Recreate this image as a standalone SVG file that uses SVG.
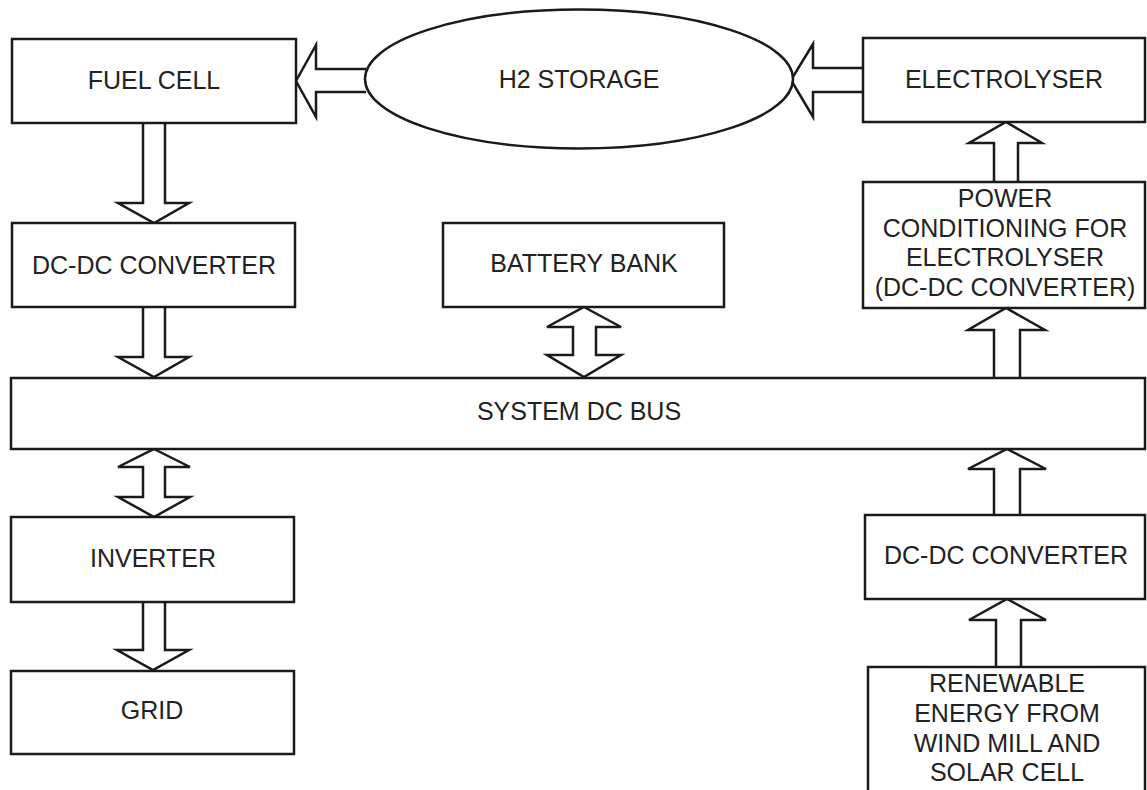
<svg xmlns="http://www.w3.org/2000/svg" width="1147" height="790" viewBox="0 0 1147 790">
<style>
.box{fill:#fff;stroke:#1a1a1a;stroke-width:2.5}
.arr{fill:#fff;stroke:#1a1a1a;stroke-width:2.5;stroke-linejoin:miter}
.t{font-family:"Liberation Sans",Arial,sans-serif;font-size:25px;fill:#222;text-anchor:middle}
</style>
<rect width="1147" height="790" fill="#fff"/>
<g id="connectors">
<path class="arr" d="M366,69 H316 V45 L296,81 L316,117 V92 H366"/>
<path class="arr" d="M863,68 H813 V44 L791,80 L813,117 V92 H863"/>
<path class="arr" d="M143,123 V203 H118 L154,223 L189,203 H165 V123"/>
<path class="arr" d="M143,307 V357 H118 L154,377 L189,357 H165 V307"/>
<path class="arr" d="M584,307 L621,327 H596 V355 H621 L584,377 L547,355 H573 V327 H547 Z"/>
<path class="arr" d="M154,449 L190,467 H165 V497 H190 L154,517 L118,497 H143 V467 H118 Z"/>
<path class="arr" d="M143,602 V650 H117 L153,670 L189,650 H165 V602"/>
<path class="arr" d="M994,182 V143 H969 L1006,122 L1042,143 H1018 V182"/>
<path class="arr" d="M994,378 V330 H968 L1006,308 L1045,330 H1020 V378"/>
<path class="arr" d="M994,515 V469 H968 L1007,449 L1046,469 H1020 V515"/>
<path class="arr" d="M996,667 V620 H969 L1007,599 L1046,620 H1021 V667"/>
</g>
<g id="fuel-cell"><rect class="box" x="12" y="39" width="284" height="84"/><text class="t" x="154" y="89">FUEL CELL</text></g>
<g id="h2-storage"><ellipse class="box" cx="579" cy="79" rx="214" ry="69.5"/><text class="t" x="579" y="88">H2 STORAGE</text></g>
<g id="electrolyser"><rect class="box" x="863" y="38" width="282" height="84"/><text class="t" x="1004" y="88">ELECTROLYSER</text></g>
<g id="dcdc-fc"><rect class="box" x="12" y="223" width="283" height="84"/><text class="t" x="154" y="274">DC-DC CONVERTER</text></g>
<g id="battery-bank"><rect class="box" x="443" y="223" width="281" height="84"/><text class="t" x="584" y="272">BATTERY BANK</text></g>
<g id="power-conditioning"><rect class="box" x="863" y="182" width="282" height="126"/>
<text class="t" x="1005" y="207">POWER</text>
<text class="t" x="1005" y="237">CONDITIONING FOR</text>
<text class="t" x="1005" y="266">ELECTROLYSER</text>
<text class="t" x="1005" y="296">(DC-DC CONVERTER)</text></g>
<g id="dc-bus"><rect class="box" x="11" y="378" width="1134" height="71"/><text class="t" x="579" y="420">SYSTEM DC BUS</text></g>
<g id="inverter"><rect class="box" x="11" y="517" width="283" height="85"/><text class="t" x="153" y="567">INVERTER</text></g>
<g id="grid"><rect class="box" x="11" y="671" width="283" height="83"/><text class="t" x="152" y="719">GRID</text></g>
<g id="dcdc-re"><rect class="box" x="865" y="515" width="280" height="84"/><text class="t" x="1006" y="564">DC-DC CONVERTER</text></g>
<g id="renewable"><rect class="box" x="868" y="667" width="277" height="140"/>
<text class="t" x="1007" y="692">RENEWABLE</text>
<text class="t" x="1007" y="722">ENERGY FROM</text>
<text class="t" x="1007" y="752">WIND MILL AND</text>
<text class="t" x="1007" y="781">SOLAR CELL</text></g>
</svg>
